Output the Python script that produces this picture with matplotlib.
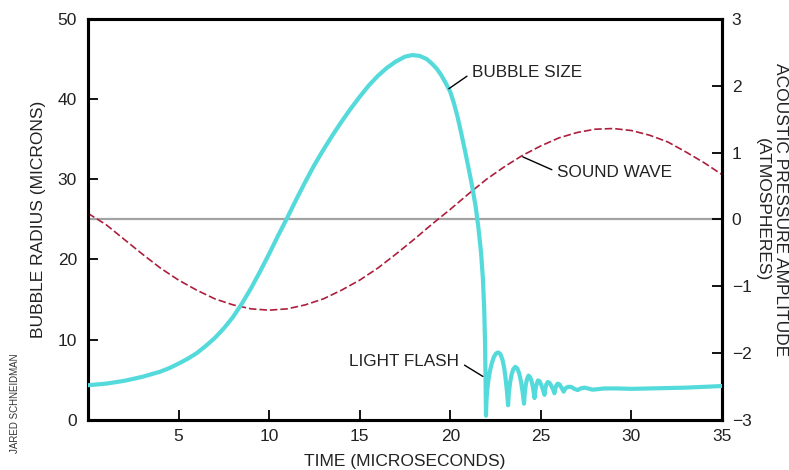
import matplotlib
matplotlib.use("Agg")
import matplotlib.pyplot as plt

plt.rcParams['font.family'] = ['Liberation Sans', 'DejaVu Sans']

# Bubble radius (microns) vs time (microseconds)
bubble_t = [0, 1, 2, 3, 4, 4.5, 5, 5.5, 6, 6.5, 7, 7.5, 8, 8.5, 9, 9.5, 10, 10.5,
            11, 11.5, 12, 12.5, 13, 13.5, 14, 14.5, 15, 15.5, 16, 16.5, 17, 17.5,
            17.9, 18.3, 18.7, 19.0, 19.25, 19.5, 19.75, 20.0, 20.2, 20.4, 20.6,
            20.8, 21.0, 21.2, 21.4, 21.55, 21.7, 21.8, 21.87, 21.92, 21.95, 21.97,
            22.0, 22.05, 22.12, 22.2, 22.3, 22.4, 22.52, 22.64, 22.76, 22.88, 22.98,
            23.06, 23.13, 23.19,
            23.23, 23.3, 23.38, 23.48, 23.59, 23.7, 23.8, 23.9, 23.99, 24.07,
            24.11, 24.17, 24.24, 24.32, 24.41, 24.5, 24.58, 24.65,
            24.69, 24.76, 24.84, 24.93, 25.03, 25.12, 25.2,
            25.24, 25.3, 25.38, 25.48, 25.58, 25.67, 25.75,
            25.8, 25.86, 25.93, 26.03, 26.14, 26.26,
            26.35, 26.5, 26.67, 26.85, 27.03, 27.2, 27.4, 27.6, 27.85, 28.1, 28.5,
            29.2, 30, 31, 32, 33, 34, 35]
bubble_r = [4.3, 4.5, 4.85, 5.35, 6.0, 6.45, 7.0, 7.6, 8.3, 9.2, 10.2, 11.4, 12.8,
            14.5, 16.4, 18.5, 20.7, 23.0, 25.2, 27.5, 29.7, 31.8, 33.7, 35.5, 37.2,
            38.8, 40.3, 41.7, 42.9, 43.9, 44.7, 45.3,
            45.5, 45.4, 45.0, 44.4, 43.8, 43.0, 42.0, 40.9, 39.5, 37.8, 35.8,
            33.7, 31.5, 29.2, 26.6, 24.0, 20.8, 17.6, 14.0, 9.5, 4.5, 0.5,
            2.5, 3.9, 5.2, 6.2, 7.1, 7.8, 8.25, 8.4, 8.2, 7.5, 6.4,
            5.0, 3.5, 1.8,
            3.3, 4.6, 5.6, 6.3, 6.6, 6.4, 5.8, 4.8, 3.5, 2.0,
            3.3, 4.4, 5.1, 5.5, 5.3, 4.7, 3.8, 2.7,
            3.6, 4.4, 4.9, 4.8, 4.3, 3.7, 3.1,
            3.8, 4.4, 4.7, 4.6, 4.2, 3.8, 3.3,
            3.9, 4.3, 4.5, 4.4, 4.0, 3.5,
            3.9, 4.1, 4.1, 3.85, 3.7, 3.9, 4.0, 3.9, 3.75, 3.8, 3.9,
            3.9, 3.85, 3.9, 3.95, 4.0, 4.1, 4.2]

# Acoustic pressure amplitude (atmospheres) vs time
wave_t = list(range(0, 36))
wave_p = [0.09, -0.08, -0.30, -0.52, -0.73, -0.91, -1.06, -1.19, -1.28, -1.34,
          -1.36, -1.34, -1.28, -1.19, -1.06, -0.91, -0.73, -0.52, -0.30, -0.07,
          0.15, 0.38, 0.60, 0.79, 0.96, 1.10, 1.22, 1.30, 1.35, 1.36, 1.33, 1.26,
          1.16, 1.01, 0.85, 0.67]

x_ticks = [5, 10, 15, 20, 25, 30, 35]
left_ticks = [0, 10, 20, 30, 40, 50]
right_ticks = [-3, -2, -1, 0, 1, 2, 3]
right_labels = ['\u22123', '\u22122', '\u22121', '0', '1', '2', '3']

W, H = 789, 470
fig = plt.figure(figsize=(W/100, H/100), dpi=100)
ax = fig.add_axes([88/W, 50.3/H, 634/W, 400.7/H])
ax2 = ax.twinx()

ax.set_xlim(0, 35)
ax.set_ylim(0, 50)
ax2.set_ylim(-3, 3)

ax2.axhline(0, color='#a3a3a3', lw=1.6, zorder=1)
ax2.plot(wave_t, wave_p, color='#ac1f3c', lw=1.2, linestyle=(0, (4.5, 1.8)), zorder=2)

ax.set_zorder(ax2.get_zorder() + 1)
ax.patch.set_visible(False)
ax.plot(bubble_t, bubble_r, color='#54dada', lw=3.0, solid_joinstyle='round',
        solid_capstyle='round', zorder=3)

for a in (ax, ax2):
    for s in a.spines.values():
        s.set_linewidth(2.2)
        s.set_color('black')

ax.set_xticks(x_ticks)
ax.set_yticks(left_ticks)
ax2.set_yticks(right_ticks)
ax2.set_yticklabels(right_labels)

tc = '#222222'
ax.tick_params(axis='both', direction='in', length=7, width=1.3, labelsize=12.5,
               colors='black', labelcolor=tc)
ax.tick_params(axis='y', pad=8)
ax.tick_params(axis='x', pad=7)
ax2.tick_params(axis='y', direction='in', length=7, width=1.3, labelsize=12.5,
                pad=7, labelcolor=tc)

ax.set_xlabel('TIME (MICROSECONDS)', fontsize=12.5, labelpad=7, color=tc)
ax.set_ylabel('BUBBLE RADIUS (MICRONS)', fontsize=12.5, labelpad=8, color=tc)

fig.text(781/W, 1 - 210/H, 'ACOUSTIC PRESSURE AMPLITUDE', rotation=-90,
         fontsize=12.5, ha='center', va='center', color=tc)
fig.text(762/W, 1 - 210/H, '(ATMOSPHERES)', rotation=-90,
         fontsize=12.5, ha='center', va='center', color=tc)

# Annotations
ax.annotate('BUBBLE SIZE', xy=(19.92, 41.3), xytext=(21.2, 43.3),
            fontsize=12.3, va='center', ha='left', color=tc,
            arrowprops=dict(arrowstyle='-', color='black', lw=1, shrinkA=2, shrinkB=0,
                            relpos=(0, 0.5)))
ax.annotate('SOUND WAVE', xy=(24.0, 32.8), xytext=(25.9, 30.9),
            fontsize=12.3, va='center', ha='left', color=tc,
            arrowprops=dict(arrowstyle='-', color='black', lw=1, shrinkA=2, shrinkB=0,
                            relpos=(0, 0.5)))
ax.annotate('LIGHT FLASH', xy=(21.8, 5.4), xytext=(20.5, 7.2),
            fontsize=12.3, va='center', ha='right', color=tc,
            arrowprops=dict(arrowstyle='-', color='black', lw=1, shrinkA=2, shrinkB=0,
                            relpos=(1, 0.5)))

fig.text(15/W, 1 - 403/H, 'JARED SCHNEIDMAN', rotation=90, fontsize=7,
         ha='center', va='center', color='#333333')

fig.savefig('out.png', dpi=100)
